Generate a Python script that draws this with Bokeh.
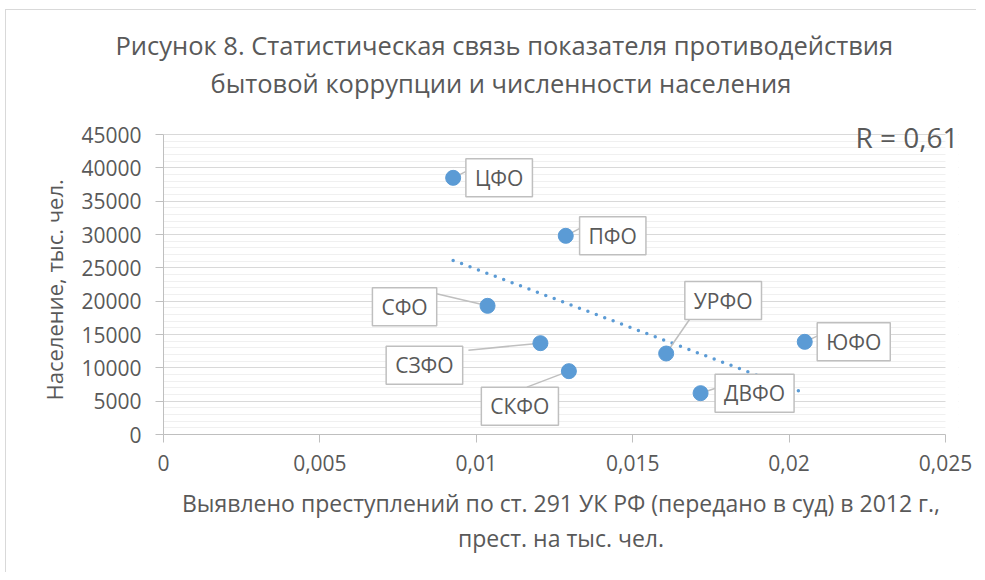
import numpy as np
from bokeh.plotting import figure
from bokeh.models import (Label, FixedTicker, SingleIntervalTicker, Range1d, ColumnDataSource,
                          Title, LinearAxis)
from bokeh.embed import file_html
from bokeh.resources import INLINE

# ---------------- data ----------------
regions = ["ЦФО", "ПФО", "СФО", "СЗФО", "СКФО", "УРФО", "ДВФО", "ЮФО"]
crime_rate = [0.00926, 0.01286, 0.01036, 0.01205, 0.01296, 0.01607, 0.01717, 0.02050]
population = [38500, 29800, 19300, 13700, 9500, 12150, 6200, 13900]

x_ticks = [0, 0.005, 0.01, 0.015, 0.02, 0.025]
x_tick_labels = ["0", "0,005", "0,01", "0,015", "0,02", "0,025"]
y_ticks = [0, 5000, 10000, 15000, 20000, 25000, 30000, 35000, 40000, 45000]
y_tick_labels = ["0", "5000", "10000", "15000", "20000", "25000", "30000", "35000", "40000", "45000"]

title_lines = ["Рисунок 8. Статистическая связь показателя  противодействия",
               "бытовой коррупции и численности населения"]
x_title_lines = ["Выявлено преступлений по ст. 291 УК РФ (передано в суд) в 2012 г.,",
                 "прест. на тыс. чел."]
y_title = "Население, тыс. чел."
r_text = "R = 0,61"

# ---------------- layout (pixels) ----------------
FONT = "Open Sans"
GRAY = "#595959"
BLUE = "#5b9bd5"
ORG_X, ORG_Y = 6, 10            # page position of the canvas (after margin + border)
PAGE_L, PAGE_T = 163, 134       # page position of the axes area top-left corner
AX_W, AX_H = 782, 300           # size of the axes area (0..0.025, 0..45000)
EXT_R, EXT_T = 13, 33           # frame extension (room for the R label)
LEFT, TOP = PAGE_L - ORG_X, PAGE_T - ORG_Y - EXT_T
W, H = 970, 562
FW, FH = AX_W + EXT_R, AX_H + EXT_T
X0, X1 = x_ticks[0], x_ticks[-1]
Y0, Y1 = y_ticks[0], y_ticks[-1]
ppx = AX_W / (X1 - X0)
ppy = AX_H / (Y1 - Y0)
X_END = X1 + EXT_R / ppx
Y_END = Y1 + EXT_T / ppy


def px2x(px):
    return X0 + (px - PAGE_L) / ppx


def py2y(py):
    return Y0 + (PAGE_T + AX_H - py) / ppy


# label box centre offsets and leader end offsets (screen px, y down)
label_off = [(46, 0), (47, 0), (-83, 1), (-116, 22), (-49, 35), (57, -53), (54, 0), (49, 0)]
leader_end = [(14, -7), (15, -8), (-51, -12), (-72, 7), (-42, 16), (24, -35), (15, -5), (15, -7)]

p = figure(frame_width=FW, frame_height=FH, output_backend="svg", toolbar_location=None,
           x_range=Range1d(X0, X_END), y_range=Range1d(Y0, Y_END),
           min_border_left=LEFT, min_border_top=TOP,
           min_border_right=W - LEFT - FW, min_border_bottom=H - TOP - FH)
p.title_location = None
p.outline_line_color = None
p.background_fill_color = "white"
p.border_fill_color = "white"
p.styles = {"margin-left": "5px", "margin-top": "9px",
            "border-left": "1px solid #d9d9d9", "border-top": "1px solid #d9d9d9"}

# title: two lines, the one closest to the frame first
TSIZE = "25.5px"
p.add_layout(Title(text=title_lines[1], align="left", offset=210 - PAGE_L, text_font=FONT,
                   text_font_size=TSIZE, text_font_style="normal", text_color=GRAY,
                   standoff=4), "above")
p.add_layout(Title(text=title_lines[0], align="left", offset=115 - PAGE_L, text_font=FONT,
                   text_font_size=TSIZE, text_font_style="normal", text_color=GRAY,
                   standoff=0), "above")

# axes
p.xaxis.ticker = FixedTicker(ticks=x_ticks)
p.xaxis.major_label_overrides = {t: l for t, l in zip(x_ticks, x_tick_labels)}
p.xaxis.bounds = (X0, X1)
p.yaxis.ticker = FixedTicker(ticks=y_ticks)
p.yaxis.major_label_overrides = {t: l for t, l in zip(y_ticks, y_tick_labels)}
p.yaxis.bounds = (Y0, Y1)
for ax in (p.xaxis[0], p.yaxis[0]):
    ax.axis_line_color = "#bfbfbf"
    ax.major_tick_line_color = "#bfbfbf"
    ax.major_tick_out = 8
    ax.major_tick_in = 0
    ax.minor_tick_line_color = None
    ax.major_label_text_font = FONT
    ax.major_label_text_font_size = "21px"
    ax.major_label_text_color = GRAY
    ax.axis_label_text_font = FONT
    ax.axis_label_text_font_size = "23px"
    ax.axis_label_text_font_style = "normal"
    ax.axis_label_text_color = GRAY
p.yaxis.major_label_standoff = 14
p.xaxis.major_label_standoff = 12
p.xaxis.axis_label = x_title_lines[0]
p.xaxis.axis_label_standoff = 13

# second line of the x axis title as an extra, tick-less axis
ax2 = LinearAxis(ticker=FixedTicker(ticks=[]), axis_label=x_title_lines[1],
                 axis_line_color=None, major_tick_line_color=None, minor_tick_line_color=None,
                 major_tick_out=0, major_tick_in=0, major_label_text_font_size="0px",
                 axis_label_text_font=FONT, axis_label_text_font_size="23px",
                 axis_label_text_font_style="normal", axis_label_text_color=GRAY,
                 axis_label_standoff=0)
p.add_layout(ax2, "below")

# y axis title (left title, anchored at the bottom of the axes area)
p.add_layout(Title(text=y_title, align="left", offset=34, text_font=FONT, text_font_size="22px",
                   text_font_style="normal", text_color=GRAY, standoff=19), "left")

# grid
p.xgrid.grid_line_color = None
p.ygrid.ticker = SingleIntervalTicker(interval=5000, num_minor_ticks=5)
p.ygrid.bounds = (Y0, Y1)
p.ygrid.grid_line_color = "#d9d9d9"
p.ygrid.minor_grid_line_color = "#f0f0f0"

# white mask right of the last x tick (frame is extended for the R label)
p.quad(left=[X1], right=[X_END], bottom=[Y0], top=[Y_END], fill_color="white", line_color=None)

# trend line (least squares)
xa = np.array(crime_rate)
ya = np.array(population)
k, b = np.polyfit(xa, ya, 1)
tx = [xa.min(), xa.max()]
ty = [k * v + b for v in tx]
p.line(tx, ty, line_color=BLUE, line_width=3.5, line_dash="0 9", line_cap="round")

# leader lines
lx0, ly0, lx1, ly1 = [], [], [], []
for xv, yv, (ex, ey) in zip(crime_rate, population, leader_end):
    lx0.append(xv)
    ly0.append(yv)
    lx1.append(xv + ex / ppx)
    ly1.append(yv - ey / ppy)
p.segment(lx0, ly0, lx1, ly1, line_color="#bfbfbf", line_width=1.5)

src = ColumnDataSource(dict(x=crime_rate, y=population, name=regions))
p.scatter("x", "y", source=src, size=15, fill_color=BLUE, line_color=BLUE)

for xv, yv, name, (dx, dy) in zip(crime_rate, population, regions, label_off):
    p.add_layout(Label(x=xv + dx / ppx, y=yv - dy / ppy, text=name,
                       text_align="center", text_baseline="middle",
                       text_font=FONT, text_font_size="21px", text_color=GRAY,
                       background_fill_color="white", border_line_color="#bfbfbf",
                       border_line_width=1.5, padding=(9, 5)))

# R label
p.add_layout(Label(x=px2x(855), y=py2y(136), text=r_text, text_align="left",
                   text_baseline="middle", text_font=FONT, text_font_size="28px",
                   text_color=GRAY))

open("out.html", "w").write(file_html(p, INLINE))
